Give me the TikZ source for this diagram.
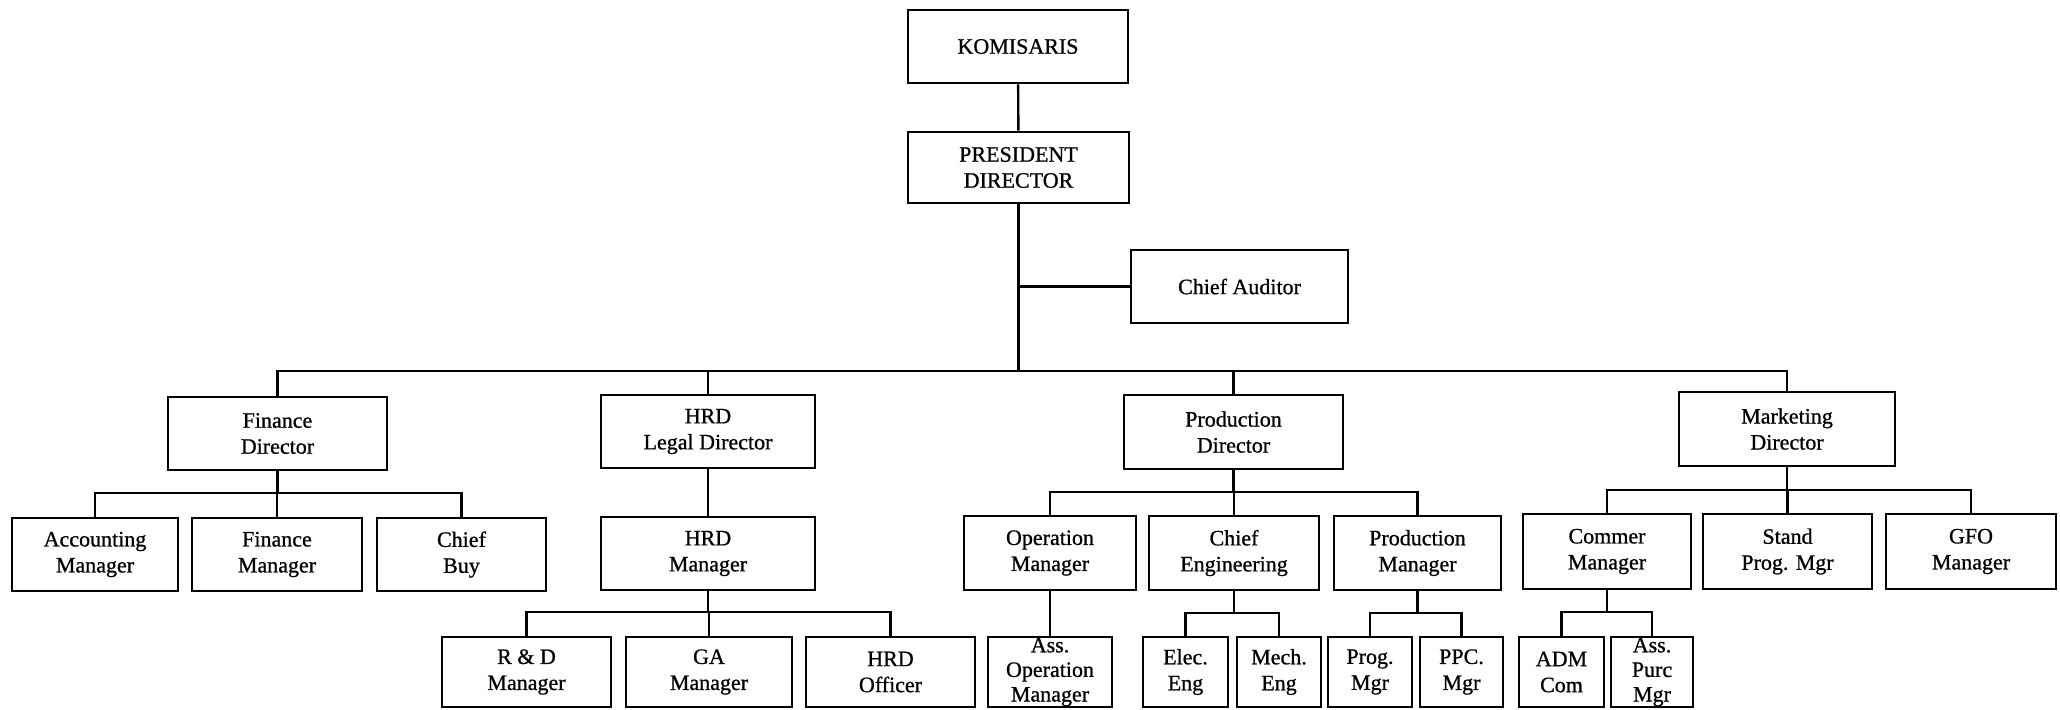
\documentclass[tikz,border=0pt]{standalone}
\usepackage{fontspec}
\setmainfont{Liberation Serif}[FakeBold=0.8]
\begin{document}
\begin{tikzpicture}[x=0.5pt,y=-0.5pt,
  bx/.style 2 args={draw, line width=1.4pt, inner sep=0pt, align=center,
    minimum width=#1*0.5pt, minimum height=#2*0.5pt,
    font=\fontsize{11}{13}\selectfont},
  tight/.style={font=\fontsize{11}{12.3}\selectfont},
  conn/.style={line width=1.2pt}]
\useasboundingbox (0,0) rectangle (2060,709);
% top
\node[bx={220}{73}] (kom) at (1018,46.5) {KOMISARIS};
\node[bx={221}{71}] (pres) at (1018.5,167.5) {PRESIDENT\\DIRECTOR};
\node[bx={217}{73}] (audit) at (1239.5,286.5) {Chief Auditor};
% directors
\node[bx={219}{73}] (fin) at (277.5,433.5) {Finance\\Director};
\node[bx={214}{73}] (hrd) at (708,431.5) {HRD\\Legal Director};
\node[bx={219}{74}] (prod) at (1233.5,432) {Production\\Director};
\node[bx={216}{74}] (mkt) at (1787,429) {Marketing\\Director};
% managers
\node[bx={166}{73}] (acc) at (95,554.5) {Accounting\\Manager};
\node[bx={170}{73}] (finm) at (277,554.5) {Finance\\Manager};
\node[bx={169}{73}] (buy) at (461.5,554.5) {Chief\\Buy};
\node[bx={214}{73}] (hrdm) at (708,553.5) {HRD\\Manager};
\node[bx={172}{74}] (opm) at (1050,553) {Operation\\Manager};
\node[bx={170}{74}] (ce) at (1234,553) {Chief\\Engineering};
\node[bx={167}{74}] (pm) at (1417.5,553) {Production\\Manager};
\node[bx={168}{75}] (com) at (1607,551.5) {Commer\\Manager};
\node[bx={169}{75}] (stand) at (1787.5,551.5) {Stand\\Prog. Mgr};
\node[bx={170}{75}] (gfo) at (1971,551.5) {GFO\\Manager};
% bottom row
\node[bx={169}{70}] (rd) at (526.5,672) {R \& D\\Manager};
\node[bx={166}{70}] (ga) at (709,672) {GA\\Manager};
\node[bx={169}{70}] (hrdo) at (890.5,672) {HRD\\Officer};
\node[bx={124}{70},tight] (assop) at (1050,672) {Ass.\\Operation\\Manager};
\node[bx={85}{70}] (elec) at (1185.5,672) {Elec.\\Eng};
\node[bx={84}{70}] (mech) at (1279,672) {Mech.\\Eng};
\node[bx={84}{70}] (prog) at (1370,672) {Prog.\\Mgr};
\node[bx={83}{70}] (ppc) at (1461.5,672) {PPC.\\Mgr};
\node[bx={85}{70}] (adm) at (1561.5,672) {ADM\\Com};
\node[bx={82}{70},tight] (asspurc) at (1652,672) {Ass.\\Purc\\Mgr};
% bus coordinates
\coordinate (mainbus) at (1018.5,371);
\coordinate (finbus) at (277.5,493);
\coordinate (prodbus) at (1233.5,492);
\coordinate (mktbus) at (1787,490);
\coordinate (hrdmbus) at (708,612);
\coordinate (cebus) at (1234,613);
\coordinate (pmbus) at (1417.5,613);
\coordinate (combus) at (1607,612);
% connectors
\begin{scope}[conn]
\draw (kom) -- (pres);
\draw (pres) -- (mainbus);
\draw (audit.west) -- (audit.west -| pres.south);
\draw (fin.north) |- (mainbus) -| (mkt.north);
\draw (hrd.north) -- (hrd.north |- mainbus);
\draw (prod.north) -- (prod.north |- mainbus);
% finance
\draw (fin) -- (finbus);
\draw (acc.north) |- (finbus) -| (buy.north);
\draw (finm.north) -- (finm.north |- finbus);
% hrd
\draw (hrd) -- (hrdm);
\draw (hrdm) -- (hrdmbus);
\draw (rd.north) |- (hrdmbus) -| (hrdo.north);
\draw (ga.north) -- (ga.north |- hrdmbus);
% production
\draw (prod) -- (prodbus);
\draw (opm.north) |- (prodbus) -| (pm.north);
\draw (ce.north) -- (ce.north |- prodbus);
\draw (opm) -- (assop);
\draw (ce) -- (cebus);
\draw (elec.north) |- (cebus) -| (mech.north);
\draw (pm) -- (pmbus);
\draw (prog.north) |- (pmbus) -| (ppc.north);
% marketing
\draw (mkt) -- (mktbus);
\draw (com.north) |- (mktbus) -| (gfo.north);
\draw (stand.north) -- (stand.north |- mktbus);
\draw (com) -- (combus);
\draw (adm.north) |- (combus) -| (asspurc.north);
\end{scope}
\end{tikzpicture}
\end{document}
